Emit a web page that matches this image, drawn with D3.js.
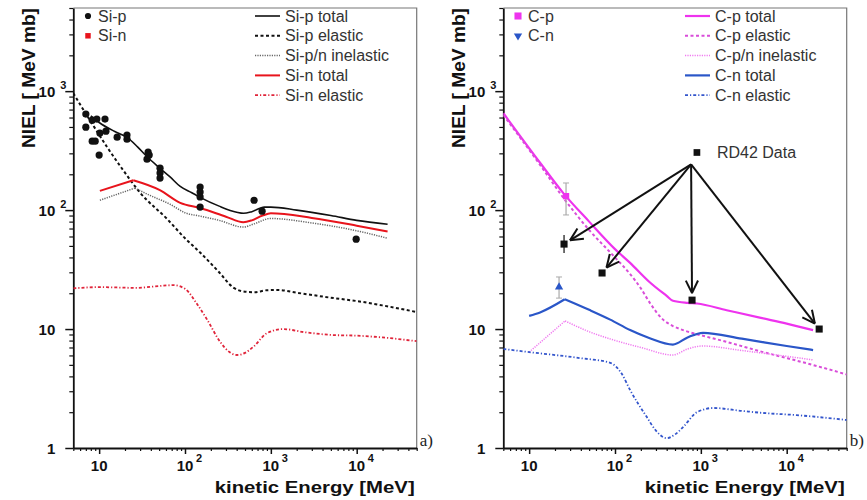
<!DOCTYPE html>
<html>
<head>
<meta charset="utf-8">
<script src="https://cdn.jsdelivr.net/npm/d3@7"></script>
<style>
  body { margin: 0; background: #fff; }
  svg { display: block; font-family: "Liberation Sans", Arial, sans-serif; }
</style>
</head>
<body>
<svg id="chart" width="867" height="500"></svg>
<script>
/* ── Data (energy in MeV, NIEL in MeV mb) ─────────────────────────── */
const energyTicks = [10, 100, 1000, 10000];
const nielTicks = [1, 10, 100, 1000];

/* panel a) silicon */
const siPTotal = [[8, 620], [10, 545], [15, 460], [21, 410], [28, 340], [36, 282], [50, 228],
  [67, 190], [88, 158], [120, 140], [150, 128], [250, 108], [400, 96], [480, 94], [600, 97],
  [840, 106], [1000, 106], [2000, 100], [5000, 90], [10000, 82], [22900, 76]];
const siPElastic = [[5, 960], [7.8, 570], [12.4, 338], [19, 217], [30, 140], [62, 84], [100, 58],
  [150, 44], [250, 30], [366, 22.3], [500, 20.6], [650, 20.4], [900, 21.2], [1200, 21.3],
  [2000, 20.2], [5400, 18.2], [10000, 17.2], [20000, 15.8], [50000, 13.9]];
const siInelastic = [[10.2, 121], [26, 153], [40, 132], [67, 112], [100, 95], [150, 89], [250, 82],
  [478, 72], [650, 77], [988, 85], [3000, 78], [10000, 67], [22900, 58]];
const siNTotal = [[10.2, 145], [25, 178], [51, 147], [88, 115], [150, 104], [300, 88], [478, 79],
  [600, 82], [800, 90], [1000, 94], [3000, 86], [10000, 74], [22900, 66]];
const siNElastic = [[5, 22], [10, 22.5], [27, 22.2], [50, 23], [73, 23.4], [100, 21.8], [140, 16],
  [181, 12], [257, 7.8], [330, 6.4], [403, 6.05], [500, 6.3], [627, 7.1], [895, 9.2], [1377, 10],
  [2500, 9.4], [5360, 8.9], [10000, 8.8], [20000, 8.5], [50000, 7.9]];
const siPData = [[7.0, 641], [7.0, 498], [8.3, 570], [9.4, 582], [8.3, 380], [9.0, 380],
  [10.2, 444], [10.0, 290], [11.7, 582], [12.0, 461], [16.2, 410], [21.1, 427], [21.1, 395],
  [36.1, 268], [37.2, 307], [38.3, 290], [51.2, 225], [51.2, 205], [51.2, 186], [150, 156],
  [150, 142], [150, 129], [150, 106], [638, 121], [791, 98], [9860, 57]];

/* panel b) carbon */
const cPTotal = [[5, 653], [13.4, 250], [25, 139], [50, 80], [100, 47], [150, 36], [250, 25],
  [400, 19], [473, 17.3], [700, 16.6], [902, 16.4], [2000, 14.4], [5000, 12.4], [10000, 11.1],
  [20300, 9.8]];
const cPElastic = [[5, 630], [13.4, 240], [25, 127], [50, 68], [100, 40], [150, 29], [200, 22],
  [256, 16.5], [363, 12], [473, 10.6], [621, 9.8], [1183, 8.6], [2000, 7.8], [5320, 6.4],
  [10000, 5.7], [20000, 5], [50000, 4.15]];
const cInelastic = [[10, 6.4], [26.2, 11.7], [50, 9.5], [95.7, 8.1], [200, 7], [473, 6.05],
  [700, 6.8], [1060, 7.2], [3000, 6.6], [10000, 5.9], [20300, 5.5]];
const cNTotal = [[10, 12.9], [13.4, 13.8], [26, 17.8], [50, 14.5], [88, 12], [150, 9.8],
  [250, 8.4], [473, 7.4], [700, 8.5], [1060, 9.3], [3000, 8.3], [10000, 7.2], [20300, 6.66]];
const cNElastic = [[5, 6.8], [10, 6.4], [39, 5.7], [88, 5.2], [120, 4.2], [150, 3.07], [235, 1.82],
  [300, 1.4], [402, 1.21], [500, 1.3], [621, 1.5], [902, 2.0], [1390, 2.17], [3000, 2.05],
  [5320, 1.97], [13000, 1.89], [50000, 1.72]];
const cPData = [[26.9, 131, 91, 169]];      /* E, value, err low, err high */
const cNData = [[22.3, 22.5, 18.2, 27.4]];
const rd42Data = [[25.5, 51.8, 43.5, 61.7], [70.7, 29.6], [790, 17.5], [23900, 10]];
const rd42Anchor = [770, 242];               /* where the arrows start */
const rd42Marker = [900, 305];

/* ── Layout ─────────────────────────────────────────────────────── */
const LEFT = 73.3, RIGHT = 416.7, TOP = 8, BOTTOM = 448;
const E_DOMAIN = [5, 50000], V_DOMAIN = [1, 5000];

const svg = d3.select("#chart");

function drawPanel(off, cfg) {
  const g = svg.append("g");
  const x = d3.scaleLog().domain(E_DOMAIN).range([LEFT + off, RIGHT + off]);
  const y = d3.scaleLog().domain(V_DOMAIN).range([BOTTOM, TOP]);

  /* thin top/right frame */
  g.append("path")
    .attr("d", `M${LEFT + off},${TOP}H${RIGHT + off}V${BOTTOM}`)
    .attr("fill", "none").attr("stroke", "#777").attr("stroke-width", 1.2);

  /* minor ticks */
  const yMinor = [], xMinor = [];
  for (const d of [1, 10, 100, 1000]) for (let m = 2; m <= 9; m++) if (m * d <= 5000) yMinor.push(m * d);
  for (const d of [1, 10, 100, 1000, 10000]) for (let m = 2; m <= 9; m++) {
    const v = m * d;
    if (v >= 5 && v <= 50000) xMinor.push(v);
  }
  g.append("g").attr("transform", `translate(${LEFT + off},0)`)
    .call(d3.axisLeft(y).tickValues(yMinor).tickSize(4).tickFormat(""))
    .call(a => a.select(".domain").remove())
    .selectAll("line").attr("stroke", "#111").attr("stroke-width", 1.2);
  g.append("g").attr("transform", `translate(0,${BOTTOM})`)
    .call(d3.axisBottom(x).tickValues(xMinor).tickSize(3).tickFormat(""))
    .call(a => a.select(".domain").remove())
    .selectAll("line").attr("stroke", "#111").attr("stroke-width", 1.2);

  /* major ticks + axis lines */
  const ya = g.append("g").attr("transform", `translate(${LEFT + off},0)`)
    .call(d3.axisLeft(y).tickValues(nielTicks).tickSize(8).tickSizeOuter(0).tickFormat(""));
  const xa = g.append("g").attr("transform", `translate(0,${BOTTOM})`)
    .call(d3.axisBottom(x).tickValues(energyTicks).tickSize(6).tickSizeOuter(0).tickFormat(""));
  for (const a of [ya, xa]) {
    a.selectAll("line").attr("stroke", "#111").attr("stroke-width", 1.5);
    a.select(".domain").attr("stroke", "#111").attr("stroke-width", 1.8);
  }

  /* tick labels with superscripts */
  const yl = g.append("g").attr("font-weight", "bold").attr("fill", "#111");
  nielTicks.forEach(v => {
    const p = Math.round(Math.log10(v));
    yl.append("text").attr("x", LEFT + off - 18).attr("y", y(v) + 5.5)
      .attr("text-anchor", "end").attr("font-size", 15).text(p === 0 ? "1" : "10");
    if (p > 1) yl.append("text").attr("x", LEFT + off - 13).attr("y", y(v) - 2)
      .attr("font-size", 11).text(p);
  });
  const xl = g.append("g").attr("font-weight", "bold").attr("fill", "#111");
  energyTicks.forEach(v => {
    const p = Math.round(Math.log10(v));
    xl.append("text").attr("x", x(v)).attr("y", 471)
      .attr("text-anchor", "middle").attr("font-size", 15).text("10");
    if (p > 1) xl.append("text").attr("x", x(v) + 11).attr("y", 462)
      .attr("font-size", 11).text(p);
  });

  /* axis titles */
  g.append("text").attr("x", RIGHT + off - 2).attr("y", 493).attr("text-anchor", "end")
    .attr("font-size", 17).attr("font-weight", "bold").attr("fill", "#111")
    .attr("textLength", 200).attr("lengthAdjust", "spacingAndGlyphs")
    .text("kinetic Energy [MeV]");
  g.append("text").attr("transform", `translate(${off + 35},148) rotate(-90)`)
    .attr("font-size", 18).attr("font-weight", "bold").attr("fill", "#111")
    .attr("textLength", 140).attr("lengthAdjust", "spacingAndGlyphs")
    .text("NIEL [ MeV mb]");

  g.append("text").attr("x", RIGHT + off + 3).attr("y", 446)
    .attr("font-family", "'Liberation Serif', 'Times New Roman', serif")
    .attr("font-size", 17).attr("fill", "#222").text(cfg.tag);

  /* curves, clipped to the frame; a "kink" energy splits the curve so
     the peak stays sharp instead of being rounded off */
  const clipId = "clip" + off;
  svg.append("clipPath").attr("id", clipId).append("rect")
    .attr("x", LEFT + off).attr("y", TOP).attr("width", RIGHT - LEFT).attr("height", BOTTOM - TOP);
  const line = d3.line().x(d => x(d[0])).y(d => y(d[1])).curve(d3.curveMonotoneX);
  const cg = g.append("g").attr("clip-path", `url(#${clipId})`);
  cfg.series.forEach(s => {
    let parts = [s.data];
    if (s.kink) {
      const k = s.data.findIndex(d => d[0] === s.kink);
      parts = [s.data.slice(0, k + 1), s.data.slice(k)];
    }
    parts.forEach(p => {
      cg.append("path").datum(p).attr("d", line)
        .attr("fill", "none").attr("stroke", s.color).attr("stroke-width", s.width)
        .attr("stroke-linejoin", "round")
        .attr("stroke-dasharray", s.dash || null);
    });
  });

  /* legend: line column */
  cfg.series.forEach((s, i) => {
    const ry = 16 + i * 19.8;
    g.append("line").attr("x1", off + 255).attr("x2", off + 280).attr("y1", ry).attr("y2", ry)
      .attr("stroke", s.color).attr("stroke-width", s.width).attr("stroke-dasharray", s.dash || null);
    g.append("text").attr("x", off + 285).attr("y", ry + 5.6).attr("font-size", 16)
      .attr("fill", "#333").text(s.name);
  });
  /* legend: marker column */
  cfg.markers.forEach((m, i) => {
    const ry = 16 + i * 19.8;
    g.append("path").attr("transform", `translate(${off + 88},${ry})` + (m.flip ? " rotate(180)" : ""))
      .attr("d", d3.symbol(m.shape, m.size)()).attr("fill", m.color);
    g.append("text").attr("x", off + 98).attr("y", ry + 5.6).attr("font-size", 16)
      .attr("fill", "#333").text(m.name);
  });

  return { g, x, y };
}

/* ── Panel a) ───────────────────────────────────────────────────── */
const pa = drawPanel(0, {
  tag: "a)",
  series: [
    { name: "Si-p total", data: siPTotal, color: "#111", width: 1.6 },
    { name: "Si-p elastic", data: siPElastic, color: "#111", width: 2, dash: "3,2.5" },
    { name: "Si-p/n inelastic", data: siInelastic, color: "#666", width: 1.5, dash: "1.2,1.2", kink: 26 },
    { name: "Si-n total", data: siNTotal, color: "#e8141c", width: 2, kink: 25 },
    { name: "Si-n elastic", data: siNElastic, color: "#e0243a", width: 1.8, dash: "3,2,1.2,2" },
  ],
  markers: [
    { name: "Si-p", shape: d3.symbolCircle, size: 30, color: "#111" },
    { name: "Si-n", shape: d3.symbolSquare, size: 30, color: "#e8141c" },
  ],
});
pa.g.append("g").selectAll("circle").data(siPData).join("circle")
  .attr("cx", d => pa.x(d[0])).attr("cy", d => pa.y(d[1])).attr("r", 3.6).attr("fill", "#111");

/* ── Panel b) ───────────────────────────────────────────────────── */
const pb = drawPanel(430, {
  tag: "b)",
  series: [
    { name: "C-p total", data: cPTotal, color: "#ee33ee", width: 2.2 },
    { name: "C-p elastic", data: cPElastic, color: "#d94dd9", width: 2, dash: "3,2.5" },
    { name: "C-p/n inelastic", data: cInelastic, color: "#f07af0", width: 1.5, dash: "1.2,1.2", kink: 26.2 },
    { name: "C-n total", data: cNTotal, color: "#2a56c8", width: 2.2, kink: 26 },
    { name: "C-n elastic", data: cNElastic, color: "#3355cc", width: 1.8, dash: "3,2,1.2,2" },
  ],
  markers: [
    { name: "C-p", shape: d3.symbolSquare, size: 50, color: "#ee33ee" },
    { name: "C-n", shape: d3.symbolTriangle, size: 30, color: "#2a56c8", flip: true },
  ],
});

function errorPoints(data, shape, size, color, barColor) {
  data.forEach(d => {
    if (d.length > 2) {
      pb.g.append("line").attr("x1", pb.x(d[0])).attr("x2", pb.x(d[0]))
        .attr("y1", pb.y(d[2])).attr("y2", pb.y(d[3]))
        .attr("stroke", barColor).attr("stroke-width", 1.2);
      if (barColor !== "#111") for (const e of [d[2], d[3]])
        pb.g.append("line").attr("x1", pb.x(d[0]) - 3).attr("x2", pb.x(d[0]) + 3)
          .attr("y1", pb.y(e)).attr("y2", pb.y(e)).attr("stroke", barColor).attr("stroke-width", 1);
    }
    pb.g.append("path").attr("transform", `translate(${pb.x(d[0])},${pb.y(d[1])})`)
      .attr("d", d3.symbol(shape, size)()).attr("fill", color);
  });
}
errorPoints(cPData, d3.symbolSquare, 40, "#ee33ee", "#aaa");
errorPoints(cNData, d3.symbolTriangle, 30, "#2a56c8", "#aaa");
errorPoints(rd42Data, d3.symbolSquare, 50, "#111", "#111");

/* RD42 label and arrows */
pb.g.append("path").attr("transform", `translate(${pb.x(rd42Marker[0])},${pb.y(rd42Marker[1])})`)
  .attr("d", d3.symbol(d3.symbolSquare, 45)()).attr("fill", "#111");
pb.g.append("text").attr("x", pb.x(rd42Marker[0]) + 20).attr("y", pb.y(rd42Marker[1]) + 5.6)
  .attr("font-size", 16).attr("fill", "#333").text("RD42 Data");

const ax = pb.x(rd42Anchor[0]), ay = pb.y(rd42Anchor[1]);
rd42Data.forEach(d => {
  const px = pb.x(d[0]), py = pb.y(d[1]);
  const dx = ax - px, dy = ay - py, len = Math.hypot(dx, dy);
  const tx = px + dx / len * 7, ty = py + dy / len * 7;
  const ang = Math.atan2(ty - ay, tx - ax);
  pb.g.append("line").attr("x1", ax).attr("y1", ay).attr("x2", tx).attr("y2", ty)
    .attr("stroke", "#111").attr("stroke-width", 2);
  for (const s of [-1, 1]) {
    const a = ang + Math.PI + s * 0.45;
    pb.g.append("line").attr("x1", tx).attr("y1", ty)
      .attr("x2", tx + 14 * Math.cos(a)).attr("y2", ty + 14 * Math.sin(a))
      .attr("stroke", "#111").attr("stroke-width", 2);
  }
});
</script>
</body>
</html>
